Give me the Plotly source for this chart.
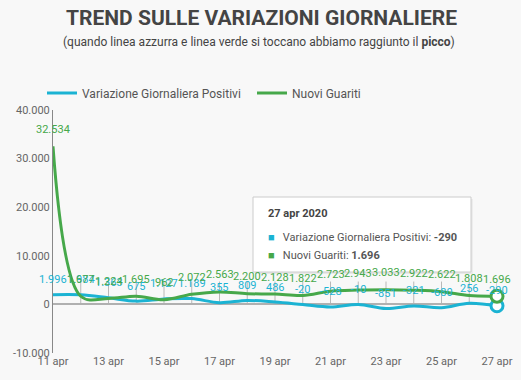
import plotly.graph_objects as go

dates = ["2020-04-%02d" % d for d in range(11, 28)]
variazione_positivi = [1996, 1984, 1363, 675, 1127, 1189, 355, 809, 486, -20, -528, -10, -851, -321, -680, 256, -290]
nuovi_guariti = [32534, 1677, 1224, 1695, 962, 2072, 2563, 2200, 2128, 1822, 2723, 2943, 3033, 2922, 2622, 1808, 1696]
tick_dates = dates[::2]
tick_labels = ["%d apr" % int(d[-2:]) for d in tick_dates]
y_ticks = [-10000, 0, 10000, 20000, 30000, 40000]

BLUE = "#1bb3d3"
GREEN = "#46a84a"
BG = "#f8f8f8"
FONT = "Roboto"


def fmt(v):
    s = f"{abs(v):,}".replace(",", ".")
    return ("-" if v < 0 else "") + s


fig = go.Figure()
fig.add_trace(go.Scatter(x=dates, y=variazione_positivi, mode="lines", name="Variazione Giornaliera Positivi",
                         legend="legend",
                         line=dict(color=BLUE, width=3, shape="spline", smoothing=1.0)))
fig.add_trace(go.Scatter(x=dates, y=nuovi_guariti, mode="lines", name="Nuovi Guariti", legend="legend2",
                         line=dict(color=GREEN, width=3, shape="spline", smoothing=1.0)))
# hover markers at last point
for series, col in ((variazione_positivi, BLUE), (nuovi_guariti, GREEN)):
    fig.add_trace(go.Scatter(x=[dates[-1]], y=[series[-1]], mode="markers", showlegend=False, cliponaxis=False,
                             marker=dict(size=12, color="white", line=dict(color=col, width=3))))

shapes = []
for d in dates[1:]:
    shapes.append(dict(type="line", x0=d, x1=d, y0=0, y1=4700, xref="x", yref="y",
                       line=dict(color="#b8b8b8", width=1), layer="below"))

annotations = []
for d, v in zip(dates, variazione_positivi):
    annotations.append(dict(x=d, y=v, text=fmt(v), showarrow=False, yshift=15,
                            font=dict(color=BLUE, size=11, family=FONT)))
for d, v in zip(dates, nuovi_guariti):
    annotations.append(dict(x=d, y=v, text=fmt(v), showarrow=False, yshift=17,
                            font=dict(color=GREEN, size=11, family=FONT)))

# title / subtitle
annotations.append(dict(xref="paper", yref="paper", x=0.47, y=1.0, yshift=92, yanchor="middle", showarrow=False,
                        text="<b>TREND SULLE VARIAZIONI GIORNALIERE</b>",
                        font=dict(size=21, color="#444444", family=FONT)))
annotations.append(dict(xref="paper", yref="paper", x=0.465, y=1.0, yshift=68, yanchor="middle", showarrow=False,
                        text="(quando linea azzurra e linea verde si toccano abbiamo raggiunto il <b>picco</b>)",
                        font=dict(size=12, color="#444444", family=FONT)))

# tooltip box
bx0, bx1 = (253 - 53) / 444, (471 - 53) / 444
by1, by0 = (353 - 197) / 243, (353 - 272) / 243
shapes.append(dict(type="rect", xref="paper", yref="paper", x0=bx0 + 0.004, x1=bx1 + 0.004, y0=by0 - 0.008, y1=by1 - 0.008,
                   fillcolor="rgba(0,0,0,0.06)", line=dict(width=0)))
shapes.append(dict(type="rect", xref="paper", yref="paper", x0=bx0, x1=bx1, y0=by0, y1=by1,
                   fillcolor="white", line=dict(color="#cccccc", width=1)))
tx = (266 - 53) / 444
annotations.append(dict(xref="paper", yref="paper", x=tx, y=(353 - 213) / 243, xanchor="left", yanchor="middle",
                        showarrow=False, text="<b>27 apr 2020</b>", font=dict(size=11, color="#444444", family=FONT)))
annotations.append(dict(xref="paper", yref="paper", x=tx, y=(353 - 237) / 243, xanchor="left", yanchor="middle",
                        showarrow=False,
                        text=f"<span style='color:{BLUE}'>■</span>   Variazione Giornaliera Positivi: <b>{fmt(variazione_positivi[-1])}</b>",
                        font=dict(size=11, color="#555555", family=FONT)))
annotations.append(dict(xref="paper", yref="paper", x=tx, y=(353 - 255) / 243, xanchor="left", yanchor="middle",
                        showarrow=False,
                        text=f"<span style='color:{GREEN}'>■</span>   Nuovi Guariti: <b>{fmt(nuovi_guariti[-1])}</b>",
                        font=dict(size=11, color="#555555", family=FONT)))

legend_common = dict(orientation="h", xanchor="left", yanchor="middle", xref="container", yref="container",
                     y=1 - 93 / 380, font=dict(size=12, color="#555555"), bgcolor="rgba(0,0,0,0)", itemwidth=30)

fig.update_layout(
    width=521, height=380,
    margin=dict(l=53, r=24, t=110, b=27, autoexpand=False),
    paper_bgcolor=BG, plot_bgcolor=BG,
    font=dict(family=FONT, size=11, color="#666666"),
    showlegend=True,
    legend=dict(x=42 / 521, **legend_common),
    legend2=dict(x=252 / 521, **legend_common),
    shapes=shapes, annotations=annotations,
    hovermode=False,
)
fig.update_xaxes(range=[dates[0], dates[-1]], tickvals=tick_dates, ticktext=tick_labels, showgrid=False,
                 zeroline=False, showline=False, ticks="", automargin=False, tickfont=dict(size=11, color="#666666"))
fig.update_yaxes(range=[-10000, 40000], tickvals=y_ticks, ticktext=[fmt(v) for v in y_ticks], showgrid=False,
                 zeroline=True, zerolinecolor="#b0b0b0", zerolinewidth=2, showline=True, linecolor="#888888",
                 linewidth=1, ticks="", automargin=False, tickfont=dict(size=11, color="#666666"))

fig.write_html("out.html", config={"displayModeBar": False},
               post_script="document.body.style.margin='0';document.body.style.overflow='hidden';")
